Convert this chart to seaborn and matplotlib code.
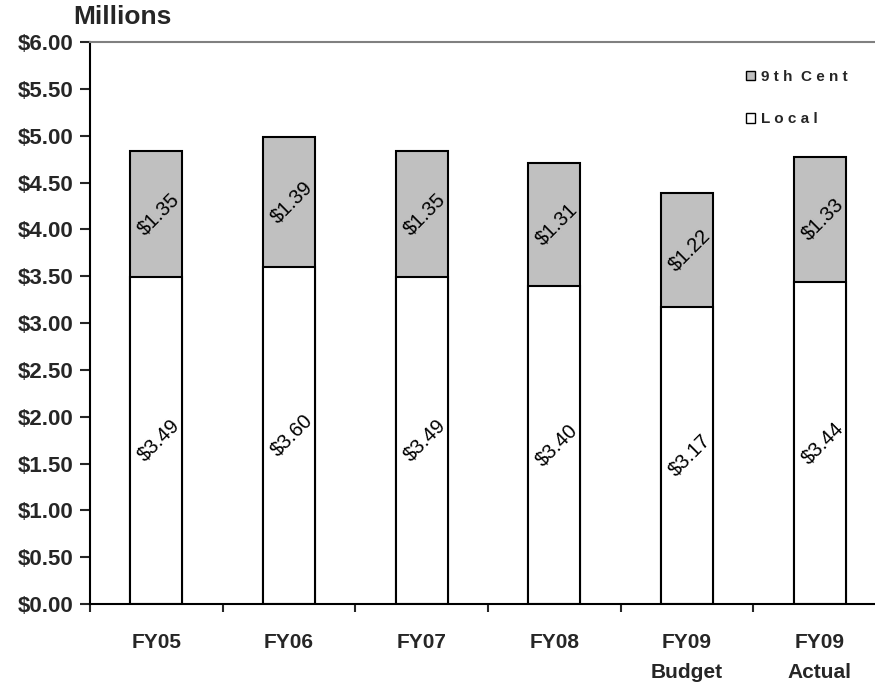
import matplotlib
matplotlib.use('Agg')
import matplotlib.pyplot as plt
import seaborn as sns
import pandas as pd
from matplotlib.patches import Patch
from matplotlib.ticker import MultipleLocator, FuncFormatter

sns.set_style('white')
plt.rcParams['font.family'] = ['Liberation Sans', 'DejaVu Sans']

## data (millions of dollars)
years = ['FY05', 'FY06', 'FY07', 'FY08', 'FY09\nBudget', 'FY09\nActual']
local = [3.49, 3.60, 3.49, 3.40, 3.17, 3.44]
ninth_cent = [1.35, 1.39, 1.35, 1.31, 1.22, 1.33]

df = pd.DataFrame({'Year': years, 'Local': local, 'NinthCent': ninth_cent})
df['Total'] = df['Local'] + df['NinthCent']

fig = plt.figure(figsize=(8.75, 6.89), dpi=100)
# axis runs slightly past the right edge, like the original
ax = fig.add_axes([90 / 875, 85 / 689, 796 / 875, 562 / 689])

## stacked bars: total (gray) behind, local (white) in front
sns.barplot(data=df, x='Year', y='Total', color='#C0C0C0', width=0.39,
            edgecolor='black', linewidth=1.5, saturation=1, ax=ax)
sns.barplot(data=df, x='Year', y='Local', color='white', width=0.39,
            edgecolor='black', linewidth=1.5, saturation=1, ax=ax)

## rotated value labels in the middle of each segment
for i, row in df.iterrows():
    ax.text(i + 0.02, row['Local'] / 2, f"${row['Local']:.2f}", rotation=45,
            ha='center', va='center', fontsize=14.5, color='black')
    ax.text(i + 0.02, row['Local'] + row['NinthCent'] / 2, f"${row['NinthCent']:.2f}",
            rotation=45, ha='center', va='center', fontsize=14.5, color='black')

ax.set_ylim(0, 6)
ax.set_xlim(-0.5, 5.5)
ax.yaxis.set_major_locator(MultipleLocator(0.5))
ax.yaxis.set_major_formatter(FuncFormatter(lambda v, p: f'${v:.2f}'))
ax.set_xlabel('')
ax.set_ylabel('')

## category boundary ticks
ax.set_xticks([i - 0.5 for i in range(7)], minor=True)
ax.tick_params(axis='x', which='major', length=0, pad=21)
ax.tick_params(axis='x', which='minor', length=6, width=1.5, direction='out', bottom=True)
ax.tick_params(axis='y', length=7, width=1.5, direction='out', left=True, pad=5)
for lab in ax.get_xticklabels():
    lab.set_fontweight('bold')
    lab.set_fontsize(15)
    lab.set_linespacing(1.75)
for lab in ax.get_yticklabels():
    lab.set_fontweight('bold')
    lab.set_fontsize(16)

for s in ['left', 'bottom']:
    ax.spines[s].set_color('black')
    ax.spines[s].set_linewidth(1.5)
ax.spines['top'].set_color('#808080')
ax.spines['top'].set_linewidth(1.5)
ax.spines['right'].set_visible(False)

## legend
handles = [Patch(facecolor='#C0C0C0', edgecolor='black', label='9 t h  C e n t'),
           Patch(facecolor='white', edgecolor='black', label='L o c a l')]
fig.legend(handles=handles, loc='upper left', bbox_to_anchor=(746 / 875, 1 - 70 / 689),
           frameon=False, handlelength=0.6, handleheight=0.6, handletextpad=0.35,
           labelspacing=1.85, borderpad=0, borderaxespad=0,
           prop={'weight': 'bold', 'size': 11})

fig.text(73 / 875, 1 - 17 / 689, 'Millions', ha='left', va='center',
         fontsize=19, fontweight='bold')

plt.savefig('out.png', dpi=100)
